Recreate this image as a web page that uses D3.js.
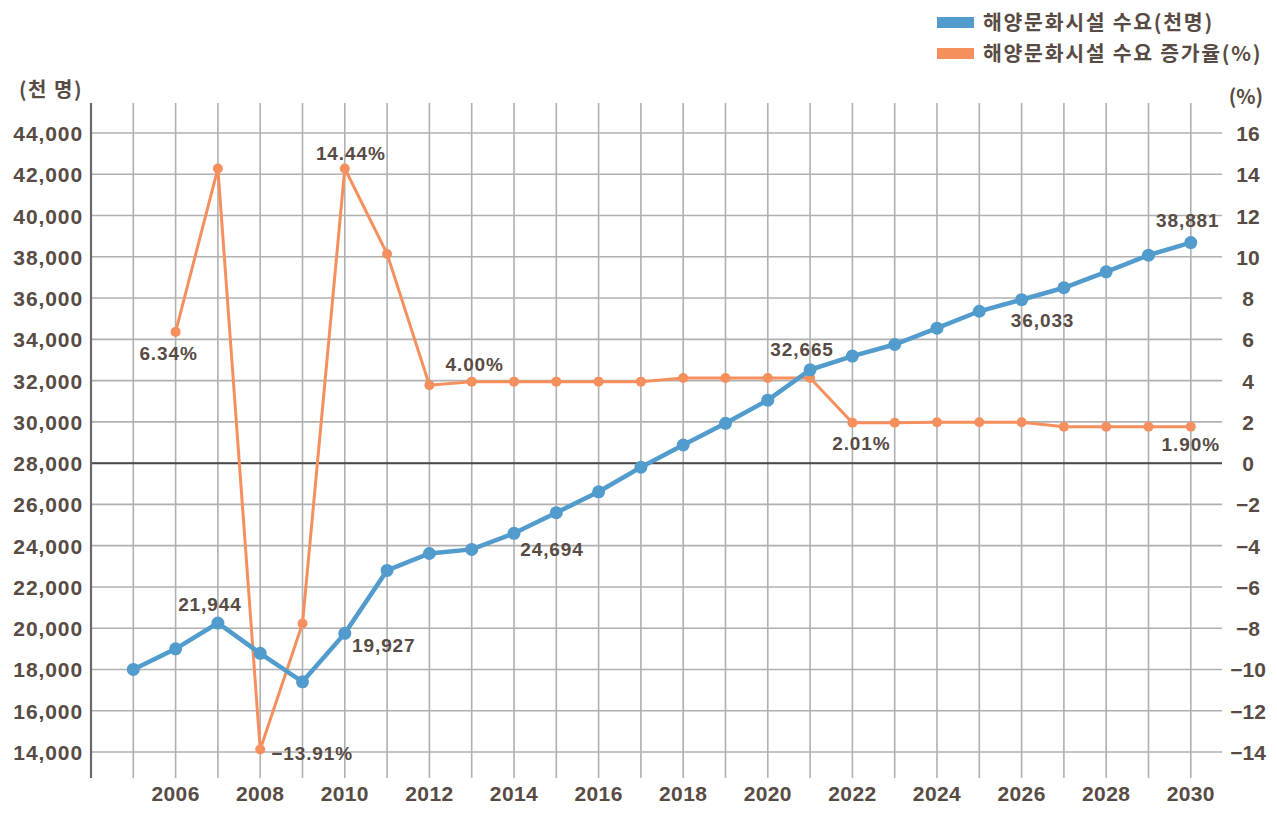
<!DOCTYPE html>
<html><head><meta charset="utf-8">
<script src="https://cdn.jsdelivr.net/npm/d3@7"></script>
<style>
html,body{margin:0;padding:0;background:#fff;}
svg{display:block;}
</style></head>
<body>
<div id="chart"></div>
<script>
// ---- data ----
const years = d3.range(2005, 2031);
const demand = [18000,19000,20250,18780,17400,19750,22800,23620,23820,24600,25600,26610,27800,28880,29930,31050,32520,33190,33750,34540,35360,35920,36500,37270,38080,38690];
const rateYears = d3.range(2006, 2031);
const rate = [6.36,14.28,-13.88,-7.77,14.28,10.14,3.78,3.95,3.95,3.95,3.95,3.95,4.13,4.13,4.13,4.13,1.96,1.96,1.98,1.98,1.98,1.76,1.76,1.76,1.76];
const leftTicks = d3.range(14000, 44001, 2000);
const rightTicks = d3.range(-14, 17, 2);
const xTickYears = d3.range(2006, 2031, 2);
const seriesNames = ["해양문화시설 수요(천명)", "해양문화시설 수요 증가율(%)"];
const leftTitle = "(천 명)";
const rightTitle = "(%)";
const demandLabels = [
  {year:2007, text:"21,944"},
  {year:2010, text:"19,927"},
  {year:2014, text:"24,694"},
  {year:2021, text:"32,665"},
  {year:2026, text:"36,033"},
  {year:2030, text:"38,881"}
];
const rateLabels = [
  {year:2006, text:"6.34%"},
  {year:2008, text:"−13.91%"},
  {year:2010, text:"14.44%"},
  {year:2013, text:"4.00%"},
  {year:2022, text:"2.01%"},
  {year:2030, text:"1.90%"}
];

// ---- layout / style ----
const W = 1277, H = 819;
const plot = {left:91, right:1222, top:103, bottom:778};
const blue = "#529bcd", orange = "#f68f5e", txt = "#574b44", grid = "#b0b0b0";
const labelOffsets = {
  2007:[-8,-12], 2010:[39,19], 2014:[38,23], 2021:[-8,-14], 2026:[21,27], 2030:[-3,-16]
};
const rateOffsets = {
  2006:[-7,28], 2008:[52,10], 2010:[6,-8], 2013:[3,-11], 2022:[9,27], 2030:[0,24]
};

const svg = d3.select("#chart").append("svg").attr("width", W).attr("height", H);

const x = d3.scaleLinear().domain([2004, 2030]).range([91, 91 + 26*42.3]);
const yL = d3.scaleLinear().domain([14000, 44000]).range([752, 133]);
const yR = d3.scaleLinear().domain([-14, 16]).range([752, 133]);

const numFont = "'Liberation Sans', Arial, sans-serif";
const korFont = "'Noto Sans CJK KR', 'Noto Sans', sans-serif";

// vertical grid
svg.append("g").selectAll("line").data(years).join("line")
  .attr("x1", d => x(d)).attr("x2", d => x(d))
  .attr("y1", plot.top).attr("y2", plot.bottom)
  .attr("stroke", grid).attr("stroke-width", 1.6);

// horizontal grid (left axis ticks)
svg.append("g").selectAll("line").data(leftTicks).join("line")
  .attr("x1", plot.left).attr("x2", plot.right)
  .attr("y1", d => yL(d)).attr("y2", d => yL(d))
  .attr("stroke", grid).attr("stroke-width", 1.6);

// zero line for right axis
svg.append("line")
  .attr("x1", plot.left).attr("x2", plot.right)
  .attr("y1", yR(0)).attr("y2", yR(0))
  .attr("stroke", "#4a4a4a").attr("stroke-width", 2);

// left axis line
svg.append("line")
  .attr("x1", plot.left).attr("x2", plot.left)
  .attr("y1", plot.top).attr("y2", plot.bottom)
  .attr("stroke", "#6a6a6a").attr("stroke-width", 2.2);

// left axis labels
const fmt = d3.format(",");
svg.append("g").selectAll("text").data(leftTicks).join("text")
  .attr("x", 83).attr("y", d => yL(d) + 8)
  .attr("text-anchor", "end")
  .attr("font-family", numFont).attr("font-weight", "bold").attr("font-size", 21)
  .attr("letter-spacing", 0.9)
  .attr("fill", txt).text(d => fmt(d));

// right axis labels
svg.append("g").selectAll("text").data(rightTicks).join("text")
  .attr("x", 1248).attr("y", d => yR(d) + 8)
  .attr("text-anchor", "middle")
  .attr("font-family", numFont).attr("font-weight", "bold").attr("font-size", 21)
  .attr("fill", txt).text(d => d3.format("d")(d));

// x labels
svg.append("g").selectAll("text").data(xTickYears).join("text")
  .attr("x", d => x(d)).attr("y", 801)
  .attr("text-anchor", "middle")
  .attr("font-family", numFont).attr("font-weight", "bold").attr("font-size", 21)
  .attr("letter-spacing", 0.4)
  .attr("fill", txt).text(d => d);

// axis titles
svg.append("text").attr("x", 51).attr("y", 97).attr("text-anchor", "middle")
  .attr("font-family", korFont).attr("font-weight", "bold").attr("font-size", 20)
  .attr("letter-spacing", 1.5)
  .attr("fill", txt).text(leftTitle);
svg.append("text").attr("x", 1246).attr("y", 104).attr("text-anchor", "middle")
  .attr("font-family", korFont).attr("font-weight", "bold").attr("font-size", 20)
  .attr("fill", txt).text(rightTitle);

// orange line
const rateData = rateYears.map((yr, i) => ({year: yr, v: rate[i]}));
svg.append("path").datum(rateData)
  .attr("d", d3.line().x(d => x(d.year)).y(d => yR(d.v)))
  .attr("fill", "none").attr("stroke", orange).attr("stroke-width", 3);
svg.append("g").selectAll("circle").data(rateData).join("circle")
  .attr("cx", d => x(d.year)).attr("cy", d => yR(d.v)).attr("r", 5)
  .attr("fill", orange);

// blue line
const demandData = years.map((yr, i) => ({year: yr, v: demand[i]}));
svg.append("path").datum(demandData)
  .attr("d", d3.line().x(d => x(d.year)).y(d => yL(d.v)))
  .attr("fill", "none").attr("stroke", blue).attr("stroke-width", 4.5);
svg.append("g").selectAll("circle").data(demandData).join("circle")
  .attr("cx", d => x(d.year)).attr("cy", d => yL(d.v)).attr("r", 6.5)
  .attr("fill", blue);

// value labels
const dMap = new Map(demandData.map(d => [d.year, d.v]));
const rMap = new Map(rateData.map(d => [d.year, d.v]));
svg.append("g").selectAll("text").data(demandLabels).join("text")
  .attr("x", d => x(d.year) + labelOffsets[d.year][0])
  .attr("y", d => yL(dMap.get(d.year)) + labelOffsets[d.year][1])
  .attr("text-anchor", "middle")
  .attr("font-family", numFont).attr("font-weight", "bold").attr("font-size", 19)
  .attr("letter-spacing", 0.9)
  .attr("fill", txt).text(d => d.text);
svg.append("g").selectAll("text").data(rateLabels).join("text")
  .attr("x", d => x(d.year) + rateOffsets[d.year][0])
  .attr("y", d => yR(rMap.get(d.year)) + rateOffsets[d.year][1])
  .attr("text-anchor", "middle")
  .attr("font-family", numFont).attr("font-weight", "bold").attr("font-size", 19)
  .attr("letter-spacing", 0.9)
  .attr("fill", txt).text(d => d.text);

// legend
const legend = svg.append("g");
[blue, orange].forEach((c, i) => {
  legend.append("rect").attr("x", 937).attr("y", 17 + i*31).attr("width", 37).attr("height", 11)
    .attr("fill", c);
  legend.append("text").attr("x", 983).attr("y", 30 + i*31)
    .attr("font-family", korFont).attr("font-weight", "bold").attr("font-size", 20.5)
    .attr("letter-spacing", 1.7)
    .attr("fill", txt).text(seriesNames[i]);
});
</script>
</body></html>
